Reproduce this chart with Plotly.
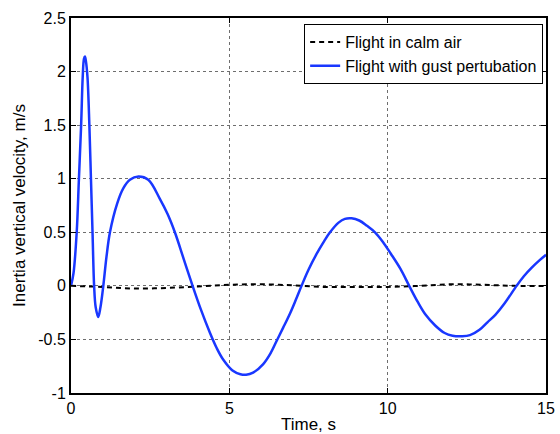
import plotly.graph_objects as go

# Flight with gust perturbation (blue)
t_gust = [0.0, 0.08, 0.18, 0.25, 0.32, 0.37, 0.41, 0.44, 0.47, 0.52, 0.58, 0.63, 0.68,
          0.73, 0.78, 0.86, 0.93, 1.02, 1.12, 1.23, 1.46, 1.65, 1.86, 2.13, 2.44, 2.81,
          3.05, 3.28, 3.56, 3.84, 4.1, 4.39, 4.6, 4.81, 5.1, 5.35, 5.53, 5.75, 6.07,
          6.3, 6.5, 6.7, 6.92, 7.1, 7.28, 7.5, 7.76, 8.0, 8.18, 8.45, 8.65, 8.86, 9.1,
          9.35, 9.6, 9.85, 10.1, 10.4, 10.68, 10.95, 11.2, 11.5, 11.8, 12.05, 12.34,
          12.6, 12.9, 13.15, 13.4, 13.7, 14.07, 14.3, 14.55, 14.8, 15.0]
v_gust = [0.0, 0.12, 0.5, 1.0, 1.5, 1.95, 2.12, 2.14, 2.1, 1.95, 1.5, 1.0, 0.5,
          0.0, -0.2, -0.29, -0.2, 0.0, 0.27, 0.5, 0.77, 0.91, 0.99, 1.02, 0.99, 0.81,
          0.67, 0.5, 0.25, 0.0, -0.22, -0.44, -0.58, -0.69, -0.79, -0.825, -0.83, -0.81, -0.73,
          -0.63, -0.51, -0.39, -0.255, -0.13, 0.0, 0.15, 0.30, 0.42, 0.5, 0.59, 0.625, 0.63, 0.61,
          0.56, 0.5, 0.41, 0.3, 0.16, 0.0, -0.15, -0.27, -0.37, -0.44, -0.465, -0.47,
          -0.46, -0.41, -0.34, -0.27, -0.16, 0.0, 0.09, 0.17, 0.24, 0.29]

# Flight in calm air (black dashed)
t_calm = [0, 1, 2, 3, 4, 5, 6, 7, 8, 9, 10, 11, 12, 13, 14, 15]
v_calm = [0.0, -0.01, -0.025, -0.02, -0.005, 0.01, 0.015, 0.005, -0.01, -0.01,
          -0.01, 0.0, 0.015, 0.01, 0.0, 0.0]

x_ticks = [0, 5, 10, 15]
y_ticks = [-1, -0.5, 0, 0.5, 1, 1.5, 2, 2.5]
y_tick_text = ["-1", "-0.5", "0", "0.5", "1", "1.5", "2", "2.5"]

FONT = "Liberation Sans, Arial, Helvetica"

fig = go.Figure()
fig.add_trace(go.Scatter(x=t_calm, y=v_calm, mode="lines", name="Flight in calm air",
                         line=dict(color="black", width=2, dash="5px,4px", shape="spline")))
fig.add_trace(go.Scatter(x=t_gust, y=v_gust, mode="lines", name="Flight with gust pertubation",
                         line=dict(color="rgb(25,55,255)", width=2.5, shape="spline", smoothing=1.0)))

axis_common = dict(
    showline=True, linecolor="black", linewidth=2, mirror="ticks",
    ticks="inside", ticklen=5, tickwidth=1, tickcolor="black",
    showgrid=True, gridcolor="rgb(110,110,110)", griddash="dot", gridwidth=1,
    zeroline=False, automargin=False,
    tickfont=dict(family=FONT, size=16, color="black"),
)

fig.update_xaxes(range=[0, 15], tickvals=x_ticks, **axis_common,
                 title=dict(text="Time, s", font=dict(family=FONT, size=17, color="black"),
                            standoff=2))
fig.update_yaxes(range=[-1, 2.5], tickvals=y_ticks, ticktext=y_tick_text, **axis_common,
                 title=dict(text="Inertia vertical velocity, m/s",
                            font=dict(family=FONT, size=17, color="black"),
                            standoff=8))

fig.update_layout(
    width=560, height=434,
    margin=dict(l=71, r=14, t=18, b=41),
    plot_bgcolor="white", paper_bgcolor="white",
    legend=dict(x=0.994, y=0.984, xanchor="right", yanchor="top",
                bgcolor="white", bordercolor="black", borderwidth=1,
                font=dict(family=FONT, size=16, color="black"),
                tracegroupgap=0, itemwidth=30),
    showlegend=True,
)

fig.write_html("out.html", config={"displayModeBar": False},
               post_script="document.body.style.margin='0px';document.body.style.padding='0px';")
